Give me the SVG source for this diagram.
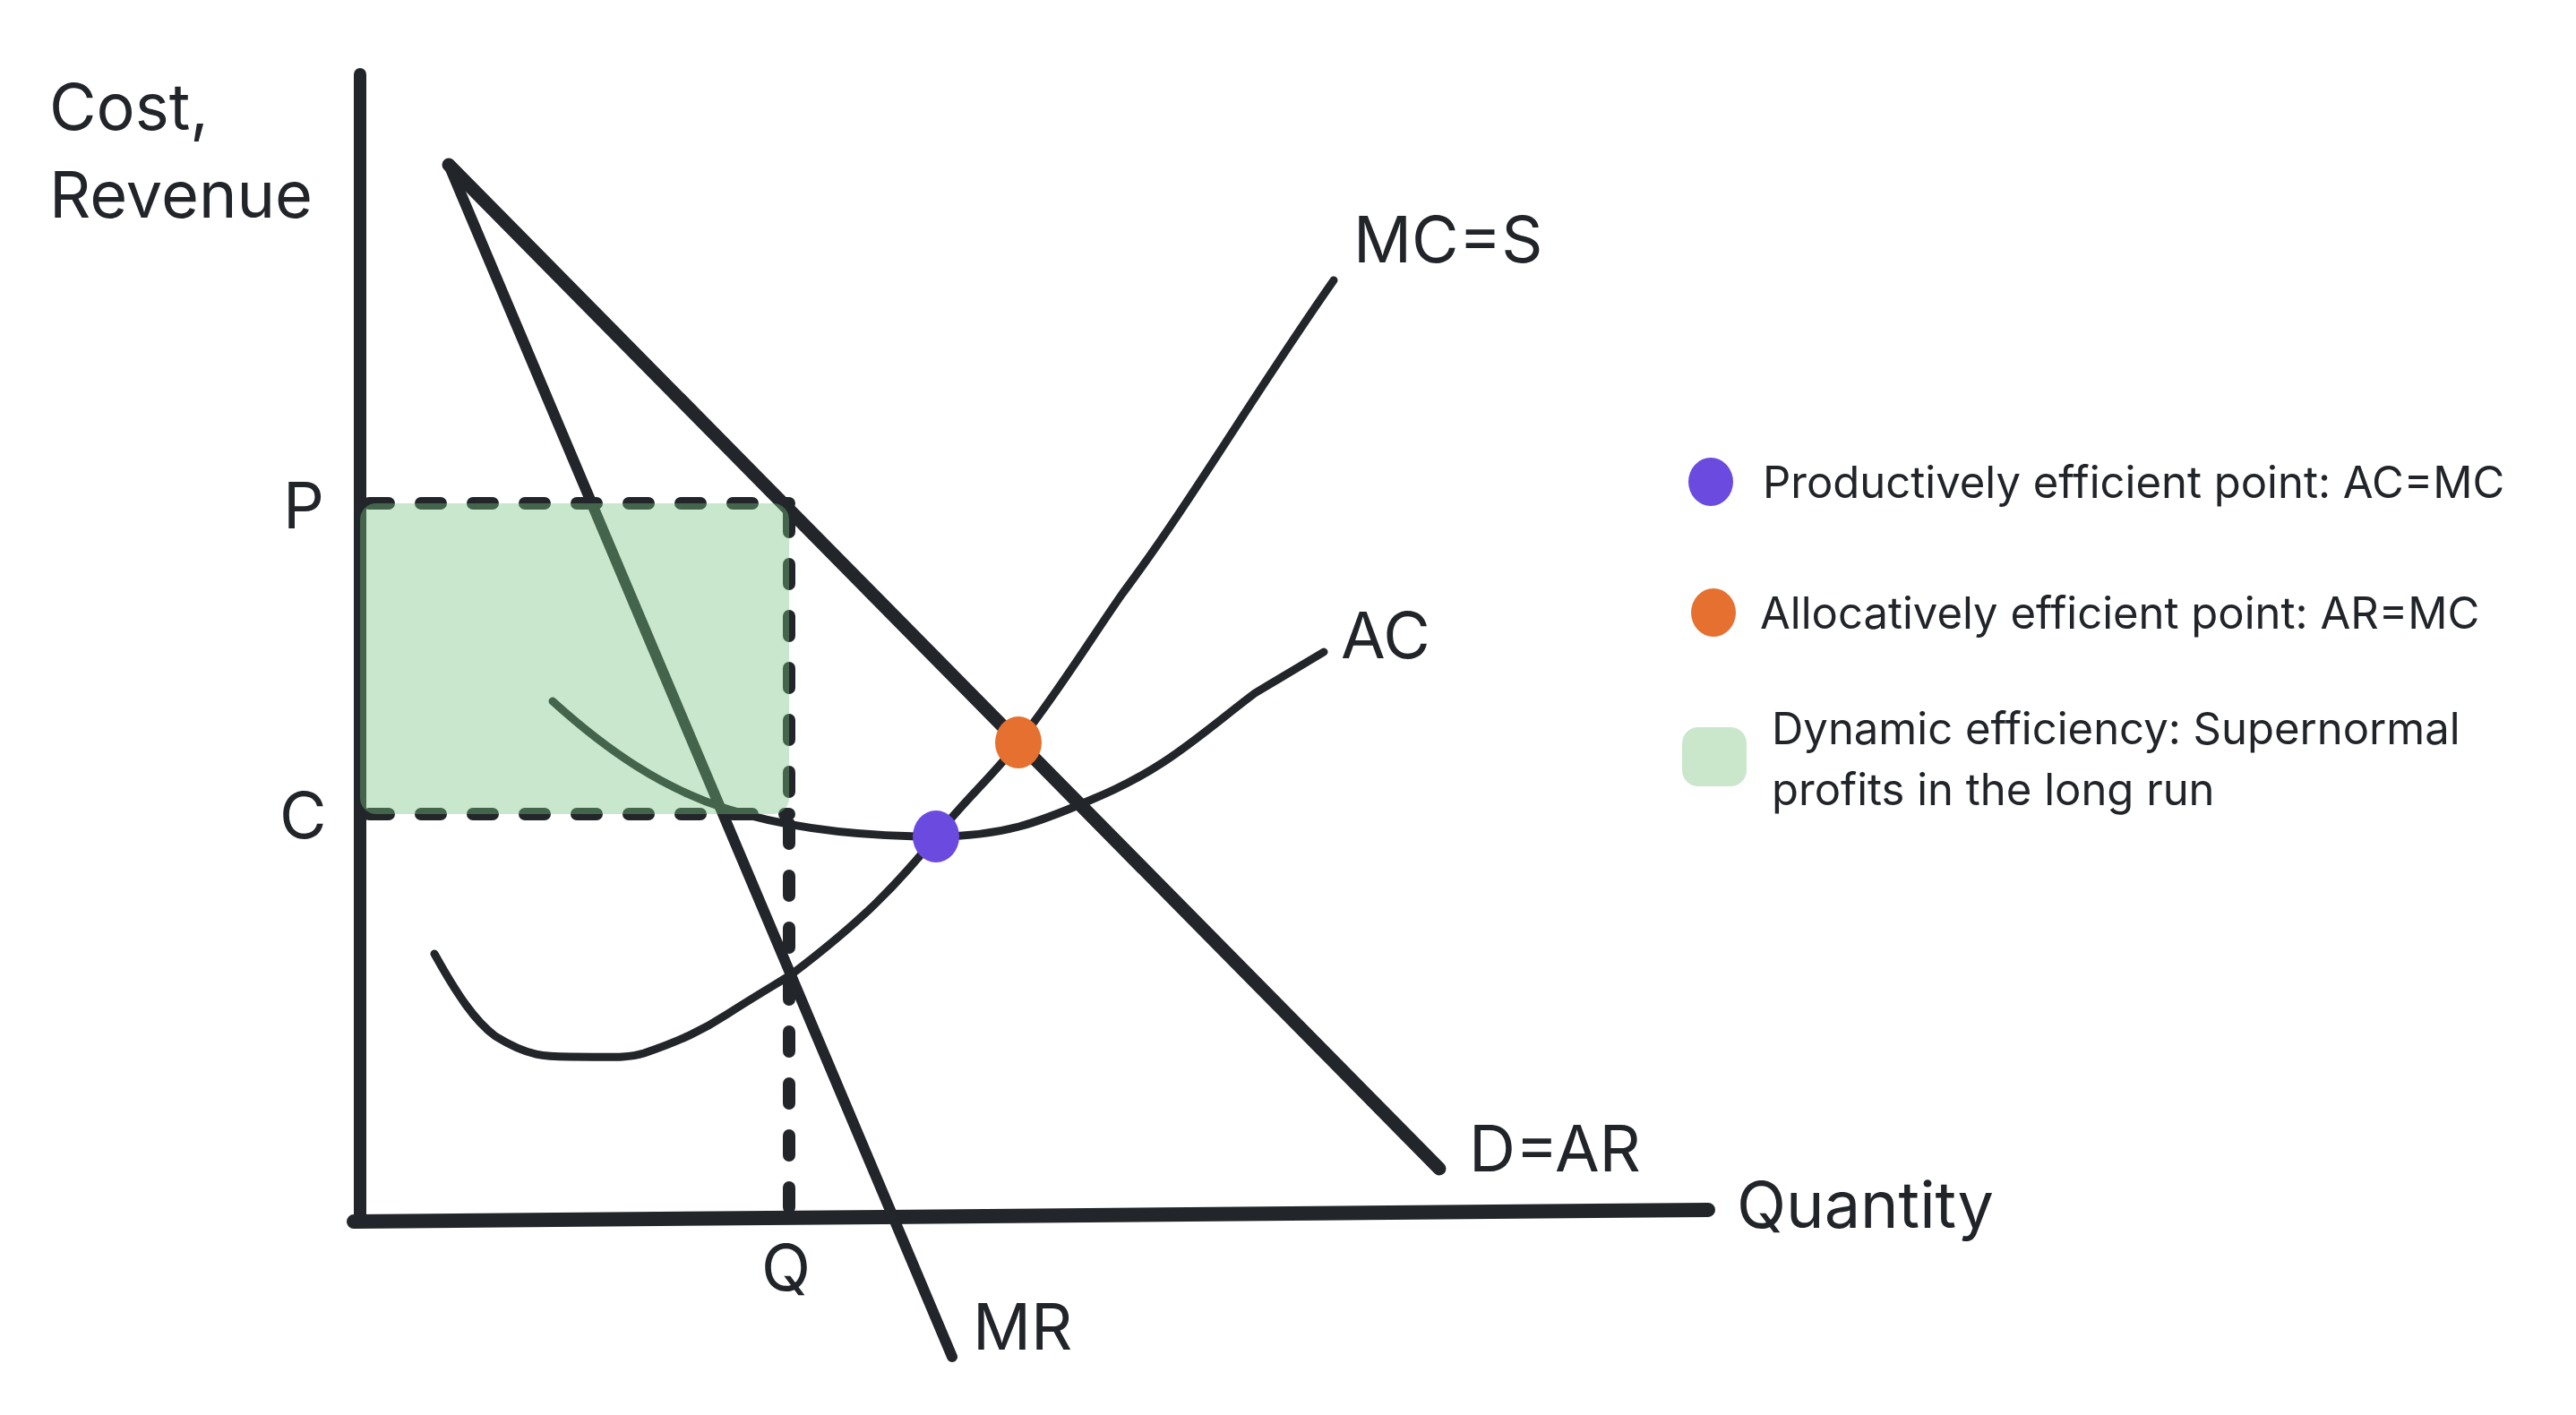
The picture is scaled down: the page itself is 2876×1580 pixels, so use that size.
<svg xmlns="http://www.w3.org/2000/svg" width="2876" height="1580" viewBox="0 0 2876 1580">
<style>
text{font-family:Inter,"Liberation Sans",sans-serif;fill:#212429}
.lbl{font-size:72px}
.leg{font-size:49px}
.ln{stroke:#22252a;fill:none;stroke-linecap:round;stroke-linejoin:round}
.dash{stroke:#22252a;fill:none;stroke-width:14;stroke-linecap:round;stroke-dasharray:22 36}
</style>
<rect width="2876" height="1580" fill="#fff"/>
<g id="connectors">
<path class="ln" d="M402 83 L402 1364" stroke-width="14"/>
<path class="ln" d="M395 1364 L1907 1351" stroke-width="16"/>
<path class="ln" d="M501 184 L1607 1305" stroke-width="15"/>
<path class="ln" d="M501 184 L1063 1515" stroke-width="12"/>
<path class="ln" d="M617 783 C680 840 740 880 811 903 C880 925 960 934 1045 934 C1120 934 1160 918 1216 894 C1300 860 1340 820 1401 774 L1478 728" stroke-width="9"/>
<path class="ln" d="M485 1065 C510 1110 530 1140 553 1157 C590 1180 610 1180 636 1180 C680 1180 700 1182 719 1176 C760 1162 785 1150 811 1133 C850 1108 870 1097 885 1087 C960 1030 1000 990 1045 934 C1080 890 1110 865 1137 829 C1180 775 1220 710 1253 663 C1330 560 1400 440 1489 313" stroke-width="9"/>
<path class="dash" d="M412 562 L881 562"/>
<path class="dash" d="M412 909 L881 909"/>
<path class="dash" d="M881 572 L881 1350"/>
</g>
<g id="profit-area">
<rect x="402" y="562" width="479" height="347" rx="18" fill="rgb(120,195,128)" fill-opacity="0.4"/>
</g>
<g id="points">
<ellipse cx="1045" cy="934" rx="26" ry="29" fill="#6b4ae0"/>
<ellipse cx="1137" cy="829" rx="26" ry="29" fill="#e57030"/>
</g>
<g id="labels">
<text class="lbl" x="55" y="145">Cost,</text>
<text class="lbl" x="55" y="243">Revenue</text>
<text class="lbl" x="1511" y="293">MC=S</text>
<text class="lbl" x="1497" y="735">AC</text>
<text class="lbl" x="316" y="590">P</text>
<text class="lbl" x="312" y="936">C</text>
<text class="lbl" x="850" y="1441">Q</text>
<text class="lbl" x="1086" y="1507">MR</text>
<text class="lbl" x="1640" y="1308">D=AR</text>
<text class="lbl" x="1939" y="1371">Quantity</text>
</g>
<g id="legend">
<ellipse cx="1910" cy="538" rx="25" ry="27" fill="#6b4ae0"/>
<text class="leg" x="1968" y="556">Productively efficient point: AC=MC</text>
<ellipse cx="1913" cy="684" rx="25" ry="27" fill="#e57030"/>
<text class="leg" x="1965" y="702">Allocatively efficient point: AR=MC</text>
<rect x="1878" y="812" width="72" height="66" rx="18" fill="#cae7cc"/>
<text class="leg" x="1978" y="831">Dynamic efficiency: Supernormal</text>
<text class="leg" x="1978" y="899">profits in the long run</text>
</g>
</svg>
